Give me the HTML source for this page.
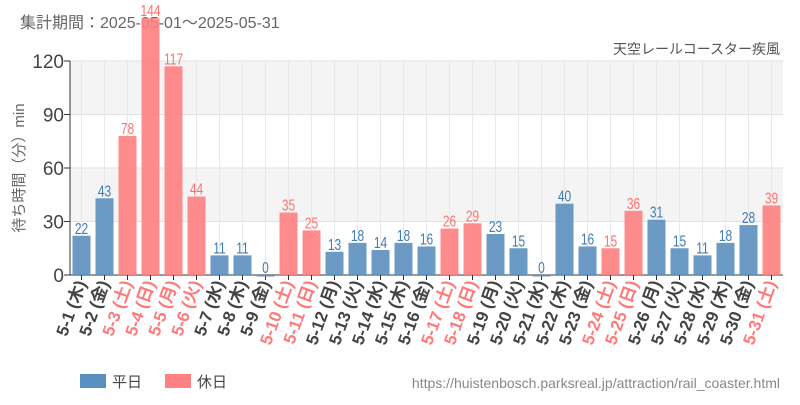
<!DOCTYPE html>
<html><head><meta charset="utf-8">
<style>
body{margin:0;background:#fff;width:800px;height:400px;overflow:hidden;font-family:"Liberation Sans","Noto Sans CJK JP",sans-serif}
</style></head><body>
<svg id="chart" width="800" height="400" xmlns="http://www.w3.org/2000/svg" font-family="Liberation Sans, Noto Sans CJK JP, sans-serif">
<text x="20" y="28" font-size="16" fill="#666">集計期間：2025-05-01～2025-05-31</text>
<text x="780" y="54" font-size="14" fill="#555" text-anchor="end">天空レールコースター疾風</text>
<text transform="translate(24,168) rotate(-90)" font-size="15" fill="#666" text-anchor="middle">待ち時間（分）min</text>
<g id="grid"></g><g id="bars"></g><g id="labels"></g>
<g>
<rect x="80" y="374" width="26" height="14" fill="#5b8fbf"/>
<text x="112" y="387" font-size="15" fill="#444">平日</text>
<rect x="165" y="374" width="26" height="14" fill="#ff8080"/>
<text x="197" y="387" font-size="15" fill="#444">休日</text>
</g>
<text x="780" y="388" font-size="14" fill="#888" text-anchor="end">https://huistenbosch.parksreal.jp/attraction/rail_coaster.html</text>
</svg>
<script>
const dates=["5-1","5-2","5-3","5-4","5-5","5-6","5-7","5-8","5-9","5-10","5-11","5-12","5-13","5-14","5-15","5-16","5-17","5-18","5-19","5-20","5-21","5-22","5-23","5-24","5-25","5-26","5-27","5-28","5-29","5-30","5-31"];
const weekdays=["木","金","土","日","月","火","水","木","金","土","日","月","火","水","木","金","土","日","月","火","水","木","金","土","日","月","火","水","木","金","土"];
const values=[22,43,78,144,117,44,11,11,0,35,25,13,18,14,18,16,26,29,23,15,0,40,16,15,36,31,15,11,18,28,39];
const holidays=[0,0,1,1,1,1,0,0,0,1,1,0,0,0,0,0,1,1,0,0,0,0,0,1,1,0,0,0,0,0,1];
const yTicks=[0,30,60,90,120];
const NS="http://www.w3.org/2000/svg";
const X0=70,X1=783,Y0=275,YT=61,YMAX=120;
const step=(X1-X0)/dates.length;
const y=v=>Y0-v*(Y0-YT)/YMAX;
const xc=i=>X0+step*(i+0.5);
function mk(t,a,p){const e=document.createElementNS(NS,t);for(const k in a)e.setAttribute(k,a[k]);p.appendChild(e);return e;}
const grid=document.getElementById('grid'),bars=document.getElementById('bars'),labels=document.getElementById('labels');
for(let k=0;k<yTicks.length-1;k++){if(k%2==1){const r=mk('rect',{x:X0,y:y(yTicks[k+1]),width:X1-X0,height:y(yTicks[k])-y(yTicks[k+1]),fill:'#f4f4f4'},grid);

}}
yTicks.forEach(t=>{const l=mk('line',{x1:X0,x2:X1,y1:y(t),y2:y(t),stroke:'#e2e2e2'},grid);


mk('line',{x1:X0-6,x2:X0,y1:y(t),y2:y(t),stroke:'#333'},grid);
const tx=mk('text',{x:X0-6,y:y(t)+7,'font-size':19,fill:'#444','text-anchor':'end'},grid);tx.textContent=t;

});
dates.forEach((d,i)=>{const l=mk('line',{x1:xc(i),x2:xc(i),y1:YT,y2:Y0,stroke:'#e8e8e8'},grid);

});
mk('line',{x1:X0,x2:X0,y1:YT,y2:Y0,stroke:'#333'},grid);
mk('line',{x1:X0,x2:X1,y1:Y0,y2:Y0,stroke:'#333'},grid);
dates.forEach((d,i)=>{
 const col=holidays[i]?'#ff8080':'#5b8fbf',tcol=holidays[i]?'#ff7070':'#3f7ab5',lcol=holidays[i]?'#ff7a7a':'#444';
 const v=values[i],top=y(v);
 const b=mk('rect',{x:xc(i)-9,y:top,width:18,height:Math.max(Y0-top,1.5),fill:col,opacity:0.9},bars);
 
 
 mk('line',{x1:xc(i),x2:xc(i),y1:Y0,y2:Y0+5,stroke:'#333'},grid);
 const vt=mk('text',{x:0,y:0,'font-size':16,fill:tcol,'text-anchor':'middle',transform:`translate(${xc(i)},${top-2}) scale(0.75,1)`},labels);vt.textContent=v;
 
 
 const xt=mk('text',{x:0,y:0,'font-size':17,'font-weight':'bold',fill:lcol,'text-anchor':'end',transform:`translate(${xc(i)+5},${Y0+8}) rotate(-70)`},labels);xt.textContent=d+' ('+weekdays[i]+')';
 
 
});
</script>
</body></html>
